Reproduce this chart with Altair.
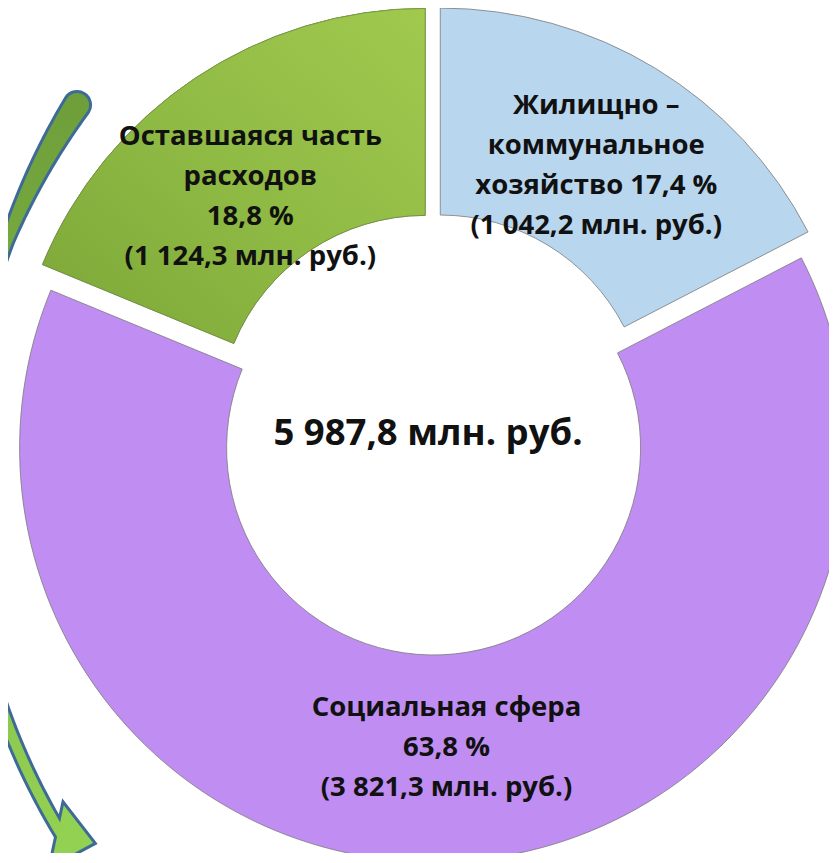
import altair as alt
import pandas as pd

# ---- data ----
categories = ["Жилищно – коммунальное хозяйство", "Социальная сфера", "Оставшаяся часть расходов"]
label_heads = ["Жилищно –\nкоммунальное\nхозяйство", "Социальная сфера", "Оставшаяся часть\nрасходов"]
pct_sep = [" ", "\n", "\n"]
amounts = [1042.2, 3821.3, 1124.3]        # млн. руб.
percents = [17.4, 63.8, 18.8]             # %
colors = ["#B9D6EF", "#C08EF2", "#8DB843"]


def ru(v):
    return f"{v:,.1f}".replace(",", " ").replace(".", ",")


labels = [
    f"{h}{s}{ru(p)} %\n({ru(a)} млн. руб.)"
    for h, s, p, a in zip(label_heads, pct_sep, percents, amounts)
]
total_label = f"{ru(sum(amounts))} млн. руб."

df = pd.DataFrame({
    "cat": categories,
    "value": amounts,
    "label": labels,
    "order": list(range(len(categories))),
})

# ---- layout (pixels) ----
W, H = 821, 845
CX, CY = 425, 426          # donut centre
R_OUT, R_IN = 414, 207
EXPLODE = 14
LABEL_R = 300
LH = 40                    # label line height
# small manual label nudges (layout only), keyed by slice order
NUDGE = {2: (-8, 24)}
dx_expr = " : ".join([f"datum.order == {k} ? {v[0]}" for k, v in NUDGE.items()] + ["0"])
dy_expr = " : ".join([f"datum.order == {k} ? {v[1]}" for k, v in NUDGE.items()] + ["0"])

base = (
    alt.Chart(df)
    .transform_window(cum="sum(value)", sort=[alt.SortField("order")], frame=[None, 0])
    .transform_joinaggregate(total="sum(value)")
    .transform_calculate(
        a0="(datum.cum - datum.value) / datum.total * 2 * PI",
        a1="datum.cum / datum.total * 2 * PI",
        nl="length(split(datum.label, '\\n'))",
        ndx=dx_expr,
        ndy=dy_expr,
    )
    .transform_calculate(mid="(datum.a0 + datum.a1) / 2")
    .transform_calculate(
        ex=f"{CX} + {EXPLODE} * sin(datum.mid)",
        ey=f"{CY} - {EXPLODE} * cos(datum.mid)",
    )
    .transform_calculate(
        lx=f"datum.ex + {LABEL_R} * sin(datum.mid) + datum.ndx",
        ly=f"datum.ey - {LABEL_R} * cos(datum.mid) - (datum.nl - 1) * {LH} / 2 + datum.ndy",
    )
)

pos = dict(
    x=alt.X("ex:Q", scale=None, axis=None),
    y=alt.Y("ey:Q", scale=None, axis=None),
    theta=alt.Theta("a0:Q", scale=None),
    theta2=alt.Theta2("a1:Q"),
)

arcs = base.mark_arc(
    radius=R_OUT, radius2=R_IN, stroke="#7a7a7a", strokeWidth=0.8
).encode(
    color=alt.Color("cat:N", scale=alt.Scale(domain=categories, range=colors), legend=None),
    **pos,
)

green_grad = base.transform_filter(alt.datum.order == 2).mark_arc(
    radius=R_OUT, radius2=R_IN, stroke="#6f8f3a", strokeWidth=0.8,
    fill=alt.Gradient(
        gradient="linear", x1=1, y1=0, x2=0, y2=1,
        stops=[alt.GradientStop(color="#A0C94E", offset=0),
               alt.GradientStop(color="#8FBA44", offset=0.5),
               alt.GradientStop(color="#7CA738", offset=1)],
    ),
).encode(**pos)

labels_layer = base.mark_text(
    font="Open Sans", fontWeight="bold", fontSize=27.5, lineBreak="\n",
    lineHeight=LH, align="center", baseline="middle", color="#111111",
).encode(
    x=alt.X("lx:Q", scale=None, axis=None),
    y=alt.Y("ly:Q", scale=None, axis=None),
    text="label:N",
)

center = alt.Chart(pd.DataFrame({"t": [total_label]})).mark_text(
    font="Open Sans", fontWeight="bold", fontSize=36.5, align="center",
    baseline="middle", color="#111111",
).encode(x=alt.value(CX - 5), y=alt.value(CY), text="t:N")

# ---- decorative curved arrow on the left (tapered body + head) ----
AX, AY, AR = 635, 474, 680          # arc centre / radius of the arrow path
TH0, TH1 = 5.30, 4.17               # start (top, tail) and end (bottom) angles
arrow_path = (
    alt.Chart(alt.sequence(0, 1.001, 0.01, as_="t"))
    .transform_calculate(th=f"{TH0} + datum.t * ({TH1} - {TH0})")
    .transform_calculate(
        ax=f"{AX} + {AR} * sin(datum.th)",
        ay=f"{AY} - {AR} * cos(datum.th)",
        w="16 + 14 * max(0, 1 - datum.t / 0.2)",
    )
    .transform_calculate(wi="datum.w - 6")
)
apos = dict(
    x=alt.X("ax:Q", scale=None, axis=None),
    y=alt.Y("ay:Q", scale=None, axis=None),
    order=alt.Order("t:Q"),
)
arrow_outline = arrow_path.mark_trail(color="#3E6A98").encode(
    size=alt.Size("w:Q", scale=None, legend=None), **apos
)
arrow_fill = arrow_path.mark_trail(
    color=alt.Gradient(
        gradient="linear", x1=0, y1=0, x2=0, y2=1,
        stops=[alt.GradientStop(color="#6E9E3A", offset=0),
               alt.GradientStop(color="#93D152", offset=1)],
    )
).encode(size=alt.Size("wi:Q", scale=None, legend=None), **apos)

arrow_head = alt.Chart(pd.DataFrame({"a": [0]})).mark_point(
    shape="M1,0L-0.3,-1.1L-0.3,1.1Z", size=3844, angle=12, filled=True,
    fill="#93D152", stroke="#3E6A98", strokeWidth=3, opacity=1,
).encode(x=alt.value(57), y=alt.value(829))

chart = alt.layer(
    arrow_outline, arrow_head, arrow_fill, arcs, green_grad, labels_layer, center
).properties(
    width=W, height=H, padding=0,
    autosize=alt.AutoSizeParams(type="none"),
).configure_view(stroke=None)

chart.save("out.html", embed_options={"renderer": "svg", "actions": False})
